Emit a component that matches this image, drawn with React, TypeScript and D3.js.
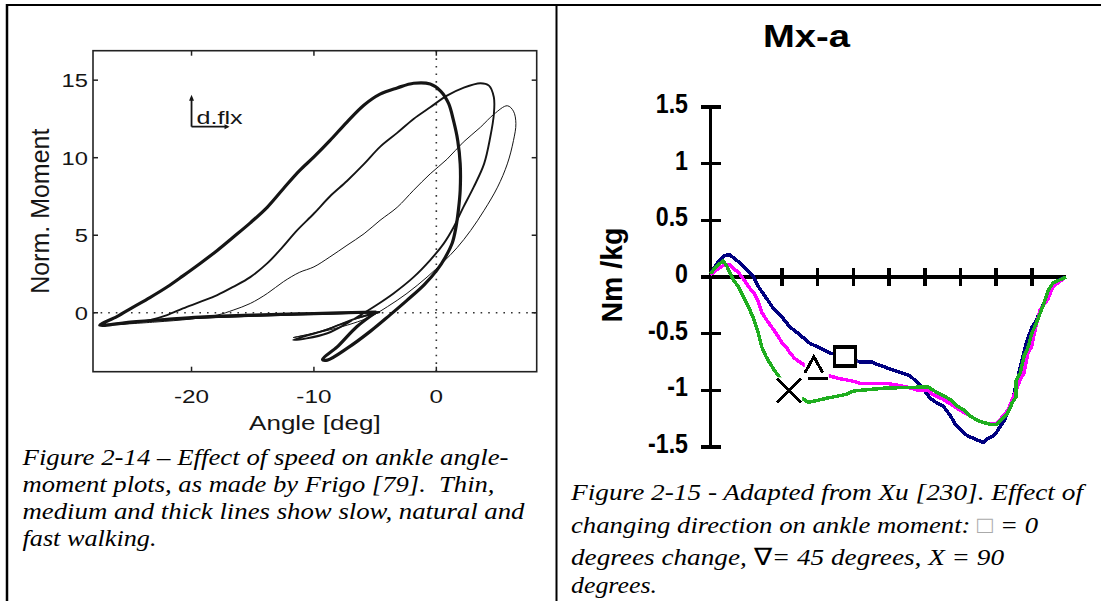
import React from "react";
import * as d3 from "d3";

// ---- Figure 2-14 (Frigo): ankle angle [deg] vs normalised moment ----
const thickLoop: [number, number][] = [
  [-4.9, 0.05], [-6.5, -0.9], [-8.1, -2.2], [-9.3, -3.0], [-8.9, -3.05], [-7.3, -2.3],
  [-5.4, -1.2], [-3.8, -0.15], [-2.4, 0.8], [-1.0, 1.8], [0.05, 2.75], [0.75, 3.6],
  [1.3, 4.5], [1.6, 5.5], [1.8, 6.6], [1.95, 7.9], [1.95, 9.6], [1.75, 11.1], [1.4, 12.4],
  [1.0, 13.5], [0.35, 14.3], [-0.5, 14.75], [-1.85, 14.8], [-3.2, 14.5], [-4.6, 14.1],
  [-5.9, 13.4], [-7.3, 12.3], [-8.7, 11.1], [-10.0, 10.05], [-11.2, 9.15], [-12.5, 8.0],
  [-13.8, 6.82], [-15.2, 5.8], [-16.6, 4.87], [-17.9, 4.02], [-19.3, 3.18], [-20.7, 2.38],
  [-22, 1.66], [-23.4, 0.98], [-24.8, 0.35], [-26.1, -0.25], [-27.5, -0.8], [-25, -0.6],
  [-22, -0.42], [-19.3, -0.28], [-15, -0.15], [-10, -0.05], [-4.9, 0.05],
];
const mediumLoop: [number, number][] = [
  [-4.6, 0.05], [-6.5, -0.35], [-9, -1.1], [-11.7, -1.75], [-10.6, -1.65], [-8.9, -1.32],
  [-7.3, -0.68], [-6.2, -0.15], [-5.1, 0.39], [-3.5, 1.25], [-1.86, 2.3], [-0.5, 3.4],
  [0.6, 4.46], [1.4, 5.5], [2.2, 6.8], [3.05, 8.1], [3.9, 9.6], [4.4, 11.3], [4.7, 12.8],
  [4.7, 13.9], [4.3, 14.65], [3.6, 14.8], [2.2, 14.5], [0.87, 14.0], [-0.5, 13.25],
  [-1.86, 12.5], [-3.2, 11.6], [-4.6, 10.7], [-5.9, 9.6], [-7.3, 8.5], [-8.7, 7.5],
  [-10, 6.4], [-11.4, 5.3], [-12.6, 4.2], [-13.8, 3.2], [-15.2, 2.3], [-16.6, 1.67],
  [-17.9, 1.14], [-19.3, 0.7], [-20.7, 0.28], [-22, -0.15], [-23.4, -0.47], [-24.8, -0.64],
  [-27.3, -0.8], [-24, -0.55], [-20, -0.35], [-15, -0.2], [-10, -0.08], [-4.6, 0.05],
];
const thinLoop: [number, number][] = [
  [-4.8, 0.0], [-7, -0.5], [-9.5, -1.2], [-11.7, -1.6], [-10.6, -1.43], [-8.7, -1.1],
  [-6.8, -0.68], [-5.4, -0.26], [-4.0, 0.39], [-2.4, 1.25], [-0.76, 2.3], [0.6, 3.3],
  [1.7, 4.2], [2.8, 5.3], [3.9, 6.6], [5.0, 8.1], [5.8, 9.6], [6.3, 11.1], [6.5, 12.2],
  [6.3, 13.0], [5.8, 13.35], [4.7, 12.8], [3.6, 11.96], [2.2, 11], [0.87, 9.9], [-0.5, 8.96],
  [-1.86, 7.9], [-3.2, 6.8], [-4.6, 5.96], [-5.9, 5.1], [-7.3, 4.35], [-8.7, 3.6], [-10, 2.96],
  [-11.2, 2.6], [-12.5, 2.0], [-13.8, 1.25], [-15.2, 0.6], [-16.6, 0.17], [-17.9, -0.15],
  [-20, -0.4], [-23, -0.6], [-26, -0.75], [-22, -0.45], [-16, -0.25], [-10, -0.1], [-4.8, 0.0],
];
const leftXTicks = [-20, -10, 0];
const leftYTicks = [0, 5, 10, 15];
const leftCaption = [
  "Figure 2-14 \u2013 Effect of speed on ankle angle-",
  "moment plots, as made by Frigo [79].  Thin,",
  "medium and thick lines show slow, natural and",
  "fast walking.",
];
const leftCaptionWidths = [486, 472, 502, 134];

// ---- Figure 2-15 (Xu): Mx-a, ankle moment [Nm/kg] over the cycle [%] ----
const blueCurve: [number, number][] = [
  [0, 0.03], [1, 0.08], [2.2, 0.135], [3.5, 0.18], [4.5, 0.195], [5.4, 0.195], [6.6, 0.165],
  [7.8, 0.135], [9, 0.1], [10.1, 0.062], [12, 0.003], [13.4, -0.086], [15.7, -0.19],
  [17.6, -0.28], [19.9, -0.35], [22.2, -0.44], [25, -0.51], [27.8, -0.585], [31.6, -0.64],
  [33.4, -0.67], [37.7, -0.7], [41.8, -0.75], [45.1, -0.75], [47.4, -0.78], [50.2, -0.81],
  [53, -0.84], [55.8, -0.87], [57.2, -0.91], [58.4, -0.94], [61.5, -1.07], [63.3, -1.11],
  [65.2, -1.14], [67.3, -1.23], [68.5, -1.3], [70.8, -1.37], [71.9, -1.4], [74.1, -1.43],
  [76.4, -1.46], [77.3, -1.43], [79.2, -1.4], [80.1, -1.37], [81.1, -1.32], [82.2, -1.27],
  [84.5, -1.1], [86.7, -0.8], [88.3, -0.6], [89.9, -0.45], [91.1, -0.39], [92.5, -0.29],
  [94.5, -0.15], [96, -0.06], [98, -0.02], [99.5, 0],
];
const magentaCurve: [number, number][] = [
  [0, 0.02], [2, 0.07], [3.5, 0.1], [5.4, 0.106], [6.6, 0.07], [7.8, 0.04], [8.7, 0.003],
  [9.9, -0.05], [11, -0.1], [12.2, -0.144], [13.4, -0.22], [14.3, -0.31], [15.5, -0.37],
  [16.6, -0.42], [17.8, -0.47], [19, -0.53], [20.1, -0.585], [21.3, -0.62], [22.2, -0.67],
  [23.6, -0.72], [25, -0.75], [26.4, -0.78], [29.2, -0.82], [33.4, -0.874], [35.8, -0.894],
  [40, -0.92], [42, -0.94], [49.8, -0.94], [55, -0.97], [58.2, -1.0], [61, -1.0],
  [62.4, -1.04], [65.2, -1.08], [69.6, -1.17], [72.9, -1.23], [75, -1.27], [78.3, -1.3],
  [80.1, -1.29], [82.2, -1.22], [83.4, -1.17], [84.5, -1.08], [86.7, -0.91], [87.8, -0.845],
  [88.8, -0.68], [89.9, -0.615], [91, -0.45], [92.3, -0.29], [94.4, -0.2], [96, -0.08],
  [98, -0.035], [99.5, 0],
];
const greenCurve: [number, number][] = [
  [0, 0.03], [1, 0.07], [2.2, 0.11], [3.5, 0.14], [4.5, 0.1], [5.4, 0.035], [6.4, -0.026],
  [7.8, -0.086], [8.7, -0.144], [9.9, -0.218], [11, -0.29], [12.2, -0.38], [13.4, -0.5],
  [14.3, -0.615], [15.5, -0.7], [16.6, -0.76], [17.8, -0.82], [22, -1.0], [27.4, -1.106],
  [32.5, -1.07], [38.1, -1.035], [40, -1.006], [48.9, -0.98], [61, -0.97], [62.4, -1.0],
  [64.7, -1.04], [67.1, -1.08], [69.1, -1.14], [70.8, -1.17], [72.9, -1.23], [75, -1.27],
  [78.3, -1.3], [80.1, -1.3], [81.3, -1.26], [82.5, -1.23], [83.4, -1.19], [84.5, -1.11],
  [85.5, -1.06], [85.6, -0.91], [86.7, -0.85], [87.8, -0.7], [89, -0.615], [89.9, -0.5],
  [91.1, -0.42], [92.3, -0.32], [93.4, -0.23], [94.6, -0.115], [96, -0.05], [97.5, -0.03],
  [99.5, 0],
];
const rightXTicks = [20, 30, 40, 50, 60, 70, 80, 90];
const rightYTicks = [1.5, 1, 0.5, 0, -0.5, -1, -1.5];
const markerShapes = ["square", "triangle", "cross"];
const markerX = [37.7, 29.2, 22];
const markerY = [-0.7, -0.81, -1.0];

export default function App() {
  // left panel scales
  const lx = d3.scaleLinear().domain([-28.05, 8.2]).range([93, 536.7]);
  const ly = d3.scaleLinear().domain([-3.8, 16.9]).range([371.7, 50.7]);
  const loopLine = d3
    .line<[number, number]>()
    .x((d) => lx(d[0]))
    .y((d) => ly(d[1]))
    .curve(d3.curveCatmullRom.alpha(0.5));

  // right panel scales
  const rx = d3.scaleLinear().domain([0, 100]).range([710.6, 1067.6]);
  const ry = d3.scaleLinear().domain([-1.5, 1.5]).range([447, 107]);
  const curveLine = d3
    .line<[number, number]>()
    .x((d) => rx(d[0]))
    .y((d) => ry(d[1]));

  const sans = "'Liberation Sans', Arial, sans-serif";
  const serif = "'Liberation Serif', 'Times New Roman', serif";
  const ink = "#151515";

  const [x0, x1] = lx.range();
  const [yb, yt] = ly.range();
  const ax = lx(-20);
  const ay = ly(12);

  return (
    <svg
      width={1101}
      height={601}
      style={{ position: "absolute", left: 0, top: 0, background: "#fff" }}
    >
      {/* table borders */}
      <line x1={6} x2={1101} y1={5} y2={5} stroke="#000" strokeWidth={2} />
      <line x1={7} x2={7} y1={4} y2={601} stroke="#000" strokeWidth={2.5} />
      <line x1={556.5} x2={556.5} y1={4} y2={601} stroke="#000" strokeWidth={2} />

      {/* ===== left chart ===== */}
      <g>
        <line x1={lx(0)} x2={lx(0)} y1={yt} y2={yb} stroke="#333" strokeWidth={1.6} strokeDasharray="1.6,6" />
        <line x1={x0} x2={x1} y1={ly(0)} y2={ly(0)} stroke="#333" strokeWidth={1.6} strokeDasharray="1.6,6" />
        <rect x={x0} y={yt} width={x1 - x0} height={yb - yt} fill="none" stroke="#222" strokeWidth={1.6} />
        {leftXTicks.map((t) => (
          <g key={"lx" + t}>
            <line x1={lx(t)} x2={lx(t)} y1={yb} y2={yb - 5} stroke="#222" strokeWidth={1.5} />
            <line x1={lx(t)} x2={lx(t)} y1={yt} y2={yt + 5} stroke="#222" strokeWidth={1.5} />
            <g transform={`translate(${lx(t)},403) scale(1.35,1)`}>
              <text textAnchor="middle" fontFamily={sans} fontSize={18} fill={ink}>
                {String(t)}
              </text>
            </g>
          </g>
        ))}
        {leftYTicks.map((t) => (
          <g key={"ly" + t}>
            <line x1={x0} x2={x0 + 5} y1={ly(t)} y2={ly(t)} stroke="#222" strokeWidth={1.5} />
            <line x1={x1} x2={x1 - 5} y1={ly(t)} y2={ly(t)} stroke="#222" strokeWidth={1.5} />
            <g transform={`translate(88,${ly(t) + 7}) scale(1.32,1)`}>
              <text textAnchor="end" fontFamily={sans} fontSize={18} fill={ink}>
                {String(t)}
              </text>
            </g>
          </g>
        ))}
        <path d={loopLine(thinLoop) || ""} fill="none" stroke={ink} strokeWidth={1} strokeLinejoin="round" />
        <path d={loopLine(mediumLoop) || ""} fill="none" stroke={ink} strokeWidth={1.9} strokeLinejoin="round" />
        <path d={loopLine(thickLoop) || ""} fill="none" stroke={ink} strokeWidth={3.2} strokeLinejoin="round" />

        {/* d.flx annotation */}
        <g>
          <line x1={ax} x2={ax} y1={ay} y2={ay - 29} stroke={ink} strokeWidth={1.8} />
          <path d={`M${ax - 2.5},${ay - 26} L${ax},${ay - 32} L${ax + 2.5},${ay - 26} Z`} fill={ink} />
          <line x1={ax} x2={ax + 36} y1={ay} y2={ay} stroke={ink} strokeWidth={1.8} />
          <path d={`M${ax + 33},${ay - 2.5} L${ax + 38},${ay} L${ax + 33},${ay + 2.5} Z`} fill={ink} />
          <g transform={`translate(${ax + 5},${ay - 3}) scale(1.4,1)`}>
            <text fontFamily={sans} fontSize={18} fill={ink}>d.flx</text>
          </g>
        </g>

        {/* axis labels */}
        <g transform={`translate(${(x0 + x1) / 2},430) scale(1.3,1)`}>
          <text textAnchor="middle" fontFamily={sans} fontSize={20} fill={ink}>
            Angle [deg]
          </text>
        </g>
        <text
          transform={`translate(49,${(yt + yb) / 2}) rotate(-90)`}
          textAnchor="middle"
          fontFamily={sans}
          fontSize={25}
          fill={ink}
        >
          Norm. Moment
        </text>
      </g>

      {/* left caption */}
      {leftCaption.map((s, i) => (
        <text
          key={"lc" + i}
          x={22.5}
          y={465 + i * 27}
          fontFamily={serif}
          fontStyle="italic"
          fontSize={24}
          fill="#000"
          textLength={leftCaptionWidths[i]}
          lengthAdjust="spacingAndGlyphs"
          style={{ whiteSpace: "pre" }}
        >
          {s}
        </text>
      ))}

      {/* ===== right chart ===== */}
      <g>
        <text
          x={763}
          y={47}
          fontFamily={sans}
          fontWeight="bold"
          fontSize={32}
          textLength={87}
          lengthAdjust="spacingAndGlyphs"
          fill="#000"
        >
          Mx-a
        </text>
        <text
          transform={`translate(622,275) rotate(-90)`}
          textAnchor="middle"
          fontFamily={sans}
          fontWeight="bold"
          fontSize={30}
          textLength={95}
          lengthAdjust="spacingAndGlyphs"
          fill="#000"
        >
          Nm /kg
        </text>

        {/* axes */}
        <line x1={rx(0)} x2={rx(0)} y1={ry(1.5)} y2={ry(-1.5)} stroke="#000" strokeWidth={3.5} shapeRendering="crispEdges" />
        <line x1={rx(-2.8)} x2={rx(99.5)} y1={ry(0)} y2={ry(0)} stroke="#000" strokeWidth={3.5} shapeRendering="crispEdges" />
        {rightYTicks.map((t) => (
          <g key={"ry" + t}>
            <line x1={rx(0) - 10} x2={rx(0) + 10} y1={ry(t)} y2={ry(t)} stroke="#000" strokeWidth={3.5} shapeRendering="crispEdges" />
            <g transform={`translate(688,${ry(t) + 6}) scale(0.86,1)`}>
              <text textAnchor="end" fontFamily={sans} fontWeight="bold" fontSize={27} fill="#000">
                {String(t)}
              </text>
            </g>
          </g>
        ))}
        {rightXTicks.map((t) => (
          <line key={"rx" + t} x1={rx(t)} x2={rx(t)} y1={ry(0) - 9} y2={ry(0) + 9} stroke="#000" strokeWidth={3.5} shapeRendering="crispEdges" />
        ))}

        {/* curves */}
        <path d={curveLine(blueCurve) || ""} fill="none" stroke="#000080" strokeWidth={3.5} shapeRendering="crispEdges" />
        <path d={curveLine(magentaCurve) || ""} fill="none" stroke="#ff00ff" strokeWidth={3.5} shapeRendering="crispEdges" />
        <path d={curveLine(greenCurve) || ""} fill="none" stroke="#1fae1f" strokeWidth={3.5} shapeRendering="crispEdges" />

        {/* markers */}
        {markerShapes.map((s, i) => {
          const cx = rx(markerX[i]);
          const cy = ry(markerY[i]);
          if (s === "square")
            return (
              <g key={s}>
                <rect x={cx - 12} y={cy - 11} width={24} height={22} fill="#fff" />
                <rect x={cx - 10.5} y={cy - 9.5} width={21} height={19} fill="none" stroke="#000" strokeWidth={3.5} shapeRendering="crispEdges" />
              </g>
            );
          if (s === "triangle")
            return (
              <g key={s}>
                <rect x={cx - 10} y={cy - 13} width={24} height={25} fill="#fff" />
                <path
                  d={`M${cx - 10},${cy + 4} L${cx - 1},${cy - 12} L${cx + 8},${cy + 4} M${cx - 7},${cy + 10} L${cx + 13},${cy + 10}`}
                  fill="none"
                  stroke="#000"
                  strokeWidth={3}
                  shapeRendering="crispEdges"
                />
              </g>
            );
          return (
            <g key={s}>
              <rect x={cx - 13} y={cy - 13} width={26} height={26} fill="#fff" />
              <path
                d={`M${cx - 12},${cy - 12} L${cx + 12},${cy + 12} M${cx - 12},${cy + 12} L${cx + 12},${cy - 12}`}
                fill="none"
                stroke="#000"
                strokeWidth={3}
                shapeRendering="crispEdges"
              />
            </g>
          );
        })}
      </g>

      {/* right caption */}
      <g fontFamily={serif} fontStyle="italic" fontSize={24} fill="#000" style={{ whiteSpace: "pre" }}>
        <text x={571} y={500} textLength={512} lengthAdjust="spacingAndGlyphs">
          Figure 2-15 - Adapted from Xu [230].  Effect of
        </text>
        <text x={571} y={533} textLength={467} lengthAdjust="spacingAndGlyphs">
          changing direction on ankle moment: <tspan fill="#aaa" fontStyle="normal">{"\u25A1"}</tspan> = 0
        </text>
        <text x={571} y={565} textLength={433} lengthAdjust="spacingAndGlyphs">
          degrees change,  <tspan fontStyle="normal">{"\u2207"}</tspan>= 45 degrees, X = 90
        </text>
        <text x={571} y={593} textLength={86} lengthAdjust="spacingAndGlyphs">
          degrees.
        </text>
      </g>
    </svg>
  );
}
